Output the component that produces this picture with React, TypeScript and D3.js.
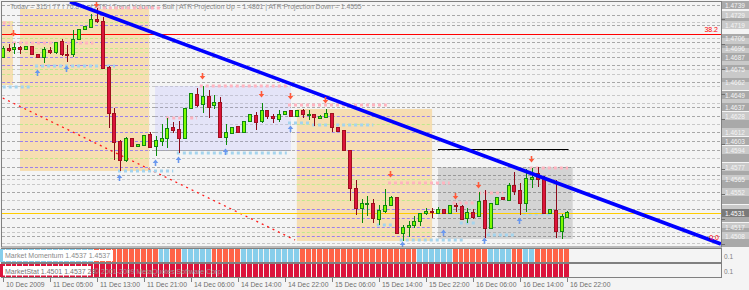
import React from "react";
import * as d3 from "d3";

// ---------- data ----------
const opens = [1.4687,1.4696,1.4695,1.4697,1.4695,1.4698,1.4690,1.4687,1.4694,1.4692,
1.4703,1.4690,1.4690,1.4705,1.4715,1.4717,1.4725,1.4723,1.4677,1.4631,
1.4603,1.4584,1.4606,1.4598,1.4599,1.4610,1.4598,1.4603,1.4606,1.4617,
1.4615,1.4606,1.4636,1.4650,1.4640,1.4648,1.4639,1.4642,1.4607,1.4611,
1.4618,1.4612,1.4623,1.4629,1.4623,1.4634,1.4628,1.4625,1.4630,1.4634,
1.4628,1.4634,1.4629,1.4630,1.4626,1.4627,1.4631,1.4617,1.4614,1.4594,
1.4556,1.4536,1.4540,1.4541,1.4525,1.4533,1.4539,1.4547,1.4511,1.4517,
1.4519,1.4523,1.4531,1.4533,1.4531,1.4535,1.4531,1.4539,1.4538,1.4526,
1.4532,1.4528,1.4544,1.4516,1.4540,1.4547,1.4544,1.4559,1.4554,1.4541,
1.4565,1.4571,1.4565,1.4531,1.4534,1.4513,1.4527];
const highs = [1.4698,1.4700,1.4701,1.4698,1.4698,1.4698,1.4690,1.4697,1.4697,1.4702,
1.4705,1.4699,1.4714,1.4715,1.4718,1.4730,1.4736,1.4727,1.4678,1.4636,
1.4604,1.4607,1.4606,1.4600,1.4609,1.4612,1.4608,1.4620,1.4626,1.4622,
1.4623,1.4636,1.4651,1.4656,1.4658,1.4654,1.4649,1.4647,1.4620,1.4617,
1.4618,1.4623,1.4630,1.4632,1.4641,1.4634,1.4630,1.4634,1.4633,1.4634,
1.4634,1.4635,1.4634,1.4630,1.4629,1.4635,1.4631,1.4617,1.4614,1.4594,
1.4564,1.4545,1.4548,1.4545,1.4539,1.4555,1.4548,1.4547,1.4519,1.4523,
1.4528,1.4531,1.4536,1.4536,1.4537,1.4535,1.4539,1.4541,1.4539,1.4536,
1.4535,1.4552,1.4554,1.4541,1.4547,1.4547,1.4561,1.4572,1.4561,1.4575,
1.4576,1.4577,1.4568,1.4535,1.4564,1.4530,1.4533];
const lows = [1.4686,1.4692,1.4690,1.4690,1.4695,1.4690,1.4687,1.4681,1.4690,1.4690,
1.4688,1.4682,1.4687,1.4704,1.4715,1.4717,1.4721,1.4676,1.4616,1.4584,
1.4573,1.4582,1.4598,1.4598,1.4598,1.4596,1.4588,1.4598,1.4596,1.4611,
1.4591,1.4606,1.4635,1.4637,1.4631,1.4626,1.4635,1.4606,1.4599,1.4611,
1.4612,1.4612,1.4623,1.4614,1.4621,1.4625,1.4621,1.4622,1.4629,1.4628,
1.4628,1.4626,1.4624,1.4618,1.4626,1.4626,1.4612,1.4613,1.4594,1.4543,
1.4529,1.4521,1.4528,1.4521,1.4519,1.4531,1.4539,1.4511,1.4503,1.4507,
1.4516,1.4518,1.4529,1.4526,1.4531,1.4531,1.4531,1.4532,1.4524,1.4521,
1.4525,1.4527,1.4506,1.4516,1.4539,1.4544,1.4544,1.4549,1.4529,1.4532,
1.4556,1.4557,1.4531,1.4531,1.4506,1.4505,1.4527];
const closes = [1.4696,1.4694,1.4697,1.4695,1.4698,1.4690,1.4687,1.4695,1.4692,1.4702,
1.4690,1.4689,1.4705,1.4715,1.4718,1.4725,1.4723,1.4676,1.4631,1.4602,
1.4584,1.4606,1.4598,1.4600,1.4609,1.4597,1.4604,1.4606,1.4616,1.4614,
1.4606,1.4636,1.4651,1.4639,1.4648,1.4637,1.4642,1.4607,1.4612,1.4617,
1.4612,1.4623,1.4630,1.4622,1.4634,1.4628,1.4626,1.4630,1.4633,1.4628,
1.4634,1.4630,1.4630,1.4627,1.4628,1.4631,1.4617,1.4613,1.4594,1.4556,
1.4536,1.4541,1.4541,1.4526,1.4534,1.4539,1.4547,1.4511,1.4517,1.4519,
1.4523,1.4531,1.4533,1.4532,1.4535,1.4531,1.4539,1.4538,1.4525,1.4532,
1.4527,1.4543,1.4516,1.4541,1.4547,1.4545,1.4559,1.4553,1.4541,1.4566,
1.4567,1.4565,1.4531,1.4535,1.4513,1.4528,1.4532];

const tickIndex = [0, 8, 16, 24, 32, 40, 48, 56, 64, 72, 80, 88, 96];
const tickLabels = ["10 Dec 2009", "11 Dec 05:00", "11 Dec 13:00", "11 Dec 21:00", "14 Dec 06:00",
  "14 Dec 14:00", "14 Dec 22:00", "15 Dec 06:00", "15 Dec 14:00", "15 Dec 22:00",
  "16 Dec 06:00", "16 Dec 14:00", "16 Dec 22:00"];

const axisTicks = [1.4725, 1.4700, 1.4675, 1.4650, 1.4625, 1.4600, 1.4575, 1.4550, 1.4525, 1.4500];

const gridLevels = [1.4739,1.4729,1.4722,1.4719,1.4706,1.4702,1.4696,1.4692,1.4687,1.4679,
1.4675,1.4670,1.4662,1.4658,1.4649,1.4641,1.4637,1.4628,1.4620,1.4612,
1.4603,1.4594,1.4586,1.4577,1.4569,1.4565,1.4560,1.4552,1.4544,1.4535,
1.4526,1.4517,1.4512,1.4508,1.4501];
const gridShade = ["d","d","l","d","l","d","l","l","d","d",
"l","l","d","l","l","l","d","d","l","d",
"d","d","l","d","d","l","l","d","l","d",
"d","d","l","d","l"];

const boxStart = [-0.1, 2.94, 25.9, 50.0, 74.0];
const boxEnd = [1.75, 24.9, 49.0, 73.0, 96.9];
const boxTop = [1.4723, 1.4735, 1.4658, 1.4635, 1.4577];
const boxBottom = [1.4659, 1.4573, 1.4594, 1.4503, 1.4505];
const boxKind = ["wheat", "wheat", "lavender", "wheat", "gray"];

const pinkFrom = [16, 0, 1.75, 33.5, 27.8, 48.5, 65.5, 76.5, 80.8, 89.6];
const pinkTo = [27.3, 1.2, 15.4, 48.3, 33, 65.3, 76, 80.3, 85.1, 96.1];
const pinkPrice = [1.4736, 1.4721, 1.4701, 1.4658, 1.4626, 1.4639, 1.4561, 1.4541, 1.4551, 1.4576];

const skyFrom = [0, 5.5, 19.6, 29.6, 48.5, 52.6, 63.6, 67.5, 77.7, 82.3, 88.4];
const skyTo = [4.6, 19.1, 29, 48.3, 52.3, 63, 66.4, 78.2, 80.6, 87.4, 93];
const skyPrice = [1.4657, 1.4678, 1.4573, 1.4591, 1.4621, 1.4619, 1.4519, 1.4504, 1.4521, 1.4509, 1.4530];

const sellIdx = [16, 2, 34, 44, 49, 55, 66, 77, 81, 90];
const sellPrice = [1.4739, 1.4710, 1.4667, 1.4649, 1.4647, 1.4643, 1.4569, 1.4547, 1.4558, 1.4584];
const buyIdx = [6, 11, 20, 26, 30, 38, 49, 68, 75, 82, 88];
const buyPrice = [1.4672, 1.4676, 1.4567, 1.4582, 1.4585, 1.4593, 1.4616, 1.4500, 1.4512, 1.4504, 1.4524];

const blueTrend = [[11.44, 1.47423], [122.1, 1.4500]];
const redTrend = [[0, 1.4646], [49.7, 1.4504]];
const blackLine = [74, 96.2, 1.4595];
const fibPrice = 1.4710;
const currentPrice = 1.4531;

const momentum = [1,1,1,1,1,1,1,1,1,1,1,1,1,1,1,1,
0,0,0,0,0,0,0,0,0,0,0,
1,1,
0,0,
1,1,1,1,1,
0,0,0,0,0,
1,1,1,1,1,1,1,1,1,1,
0,0,0,0,0,0,0,0,0,0,0,0,0,0,0,0,0,0,0,0,
1,1,1,1,1,1,
0,0,0,0,0,0,
1,1,1,1,
0,0,
1,1,
0,0,0,0,0,0];
const marketStat = [0,0,0,0,0,0,0,0,0,0,0,0,0,0,0,0,0,0,0,0,
0,0,0,0,0,0,0,0,0,0,0,0,0,0,0,0,0,0,0,0,
0,0,0,0,0,0,0,0,0,0,0,0,0,0,0,0,0,0,0,0,
0,0,0,0,0,0,0,0,0,0,0,0,0,0,0,0,0,0,0,0,
0,0,0,0,0,0,0,0,0,0,0,0,0,0,0,0,0];

const headerText = "Today = 315 | 77 | 76.8% of ATR | Trend Volume = Bull | ATR Projection Up = 1.4861 | ATR Projection Down = 1.4555";

// ---------- component ----------
export default function App() {
  const W = 749, H = 290;
  const L = 2, R = 721, T = 2, B = 246;
  const x = d3.scaleLinear().domain([0, 96]).range([2.7, 567.4]);
  const y = d3.scaleLinear().domain([1.4498, 1.4744]).range([246, 0]);
  const font = "'Liberation Sans', Arial, sans-serif";
  const fmt = d3.format(".4f");

  const boxFill: Record<string, string> = { wheat: "#f6deb2", lavender: "#e4e4f8", gray: "#d4d4d4" };
  const line = d3.line<number[]>().x(d => x(d[0])).y(d => y(d[1]));

  const arrowDown = (cx: number, cy: number) =>
    `M${cx - 0.8},${cy - 4} h1.6 v3 h2 l-2.8,3.6 l-2.8,-3.6 h2 z`;
  const arrowUp = (cx: number, cy: number) =>
    `M${cx - 0.8},${cy + 4} h1.6 v-3 h2 l-2.8,-3.6 l-2.8,3.6 h2 z`;

  const barRect = (i: number) => {
    const a = Math.round(x(i) - 2.94);
    const b = Math.round(x(i + 1) - 2.94);
    return { x0: a, w: b - a - 1 };
  };

  // which price-column boxes get a readable label (no overlaps)
  const curY = Math.round(y(currentPrice));
  const labelled: boolean[] = [];
  let lastY = -100;
  gridLevels.forEach((p) => {
    const yy = Math.round(y(p));
    const ok = yy - lastY >= 9 && Math.abs(yy - curY) >= 9;
    labelled.push(ok);
    if (ok) lastY = yy;
  });

  return (
    <div style={{ position: "absolute", left: 0, top: 0 }}>
      <svg width={W} height={H} style={{ display: "block", fontFamily: font }}>
        <defs>
          <clipPath id="mainClip">
            <rect x={L} y={T} width={R - L} height={B - T + 1} />
          </clipPath>
        </defs>
        <rect x={0} y={0} width={W} height={H} fill="#f4f4f4" />

        <g clipPath="url(#mainClip)">
          {gridLevels.map((p, k) => (
            <line key={"g" + k} x1={L} x2={R} y1={Math.round(y(p)) + 0.5} y2={Math.round(y(p)) + 0.5}
              stroke={gridShade[k] === "d" ? "#a8a8a8" : "#c8c8c8"} strokeDasharray="3,2" />
          ))}
          <text x={10} y={8.5} fontSize={6.8} fill="#8a8a8a">{headerText}</text>
          {boxStart.map((s, k) => (
            <rect key={"b" + k} x={x(s)} y={y(boxTop[k])} width={x(boxEnd[k]) - x(s)}
              height={y(boxBottom[k]) - y(boxTop[k])} fill={boxFill[boxKind[k]]} />
          ))}
          {boxStart.map((s, k) =>
            gridLevels.filter(p => p <= boxTop[k] && p >= boxBottom[k]).map((p, j) => {
              const shade = gridShade[gridLevels.indexOf(p)];
              let c = shade === "d" ? "#a8a8a8" : "#c8c8c8";
              if (boxKind[k] === "wheat") c = shade === "d" ? "#9c80ea" : "#bfe98c";
              if (boxKind[k] === "lavender") c = shade === "d" ? "#a4a4b4" : "#c4c4d4";
              if (boxKind[k] === "gray") c = shade === "d" ? "#989898" : "#b4b4b4";
              const yy = Math.round(y(p)) + 0.5;
              return <line key={"r" + k + "_" + j} x1={x(s)} x2={x(boxEnd[k])} y1={yy} y2={yy}
                stroke={c} strokeDasharray="3,2" />;
            })
          )}
          <path d={line(redTrend) || ""} stroke="#ff1a1a" strokeWidth={1.3} strokeDasharray="2,4" fill="none" />
          {pinkFrom.map((f, k) => (
            <line key={"p" + k} x1={x(f)} x2={x(pinkTo[k])} y1={y(pinkPrice[k])} y2={y(pinkPrice[k])}
              stroke="#ffb4c0" strokeWidth={3} strokeDasharray="3,3" />
          ))}
          {skyFrom.map((f, k) => (
            <line key={"s" + k} x1={x(f)} x2={x(skyTo[k])} y1={y(skyPrice[k])} y2={y(skyPrice[k])}
              stroke="#a4d4ee" strokeWidth={3} strokeDasharray="3,3" />
          ))}
          <line x1={L} x2={R} y1={Math.round(y(fibPrice)) + 0.5} y2={Math.round(y(fibPrice)) + 0.5} stroke="#ff0000" strokeWidth={1} />
          <line x1={L} x2={R} y1={curY + 0.5} y2={curY + 0.5} stroke="#ffcc00" strokeWidth={1.2} />
          <line x1={x(blackLine[0])} x2={x(blackLine[1])} y1={Math.round(y(blackLine[2])) + 0.5}
            y2={Math.round(y(blackLine[2])) + 0.5} stroke="#000" strokeWidth={1} />
          {opens.map((o, i) => {
            const c = closes[i];
            const up = c >= o;
            const r = Math.round(x(i));
            const top = Math.round(y(Math.max(o, c)));
            const bot = Math.round(y(Math.min(o, c)));
            const wick = up ? "#0a8a0a" : "#8b0a1a";
            return (
              <g key={"c" + i}>
                <line x1={r + 0.5} x2={r + 0.5} y1={Math.round(y(highs[i]))} y2={Math.round(y(lows[i]))} stroke={wick} />
                <rect x={r - 1.5} y={top + 0.5} width={3} height={Math.max(bot - top, 1)}
                  fill={up ? "#7cfc00" : "#dc143c"} stroke={up ? "#118811" : "#a0101e"} />
              </g>
            );
          })}
          <path d={line(blueTrend) || ""} stroke="#0000ff" strokeWidth={3.6} fill="none" />
          {sellIdx.map((ix, k) => (
            <path key={"sa" + k} d={arrowDown(Math.round(x(ix)) - 0.5, y(sellPrice[k]))} fill="#ff5a3a" />
          ))}
          {buyIdx.map((ix, k) => (
            <path key={"ba" + k} d={arrowUp(Math.round(x(ix)) - 0.5, y(buyPrice[k]))} fill="#6a98ee" />
          ))}
          <text x={718} y={31.5} fontSize={7} fill="#ff0000" textAnchor="end">38.2</text>
          <text x={719} y={240} fontSize={7} fill="#ff0000" textAnchor="end">0.0</text>
        </g>
        <rect x={1.5} y={1.5} width={720} height={245.5} fill="none" stroke="#808080" />

        {/* right price column */}
        {gridLevels.map((p, k) => {
          const yy = Math.round(y(p));
          return (
            <rect key={"lb" + k} x={722} y={yy - 4} width={27} height={8}
              fill={k % 2 === 0 ? "#a9a9a9" : "#c9c9c9"} />
          );
        })}
        {gridLevels.map((p, k) => labelled[k] ? (
          <text key={"lt" + k} x={725} y={Math.round(y(p)) + 2.5} fontSize={6.5} fill="#f4f4f4">{fmt(p)}</text>
        ) : null)}
        {axisTicks.map((p, k) => {
          const yy = Math.round(y(p)) + 0.5;
          return <line key={"at" + k} x1={721} x2={725} y1={yy} y2={yy} stroke="#707070" />;
        })}
        <rect x={722} y={curY - 4} width={27} height={8} fill="#7a7a7a" />
        <text x={725} y={curY + 2.5} fontSize={6.5} fill="#ffffff">{fmt(currentPrice)}</text>

        {/* indicator panel 1 */}
        <rect x={1.5} y={248.5} width={720} height={14} fill="#f4f4f4" stroke="#808080" />
        {momentum.map((v, i) => {
          const b = barRect(i);
          return <rect key={"m" + i} x={b.x0} y={249} width={b.w} height={13} fill={v ? "#87ceeb" : "#ff6347"} />;
        })}
        <rect x={3} y={250} width={110} height={11} fill="#ffffff" />
        <text x={5} y={258.3} fontSize={7} fill="#8a8a8a">Market Momentum 1.4537 1.4537</text>
        <text x={724} y={259} fontSize={6.5} fill="#808080">0.1</text>

        {/* indicator panel 2 */}
        <rect x={1.5} y={263.5} width={720} height={14} fill="#f4f4f4" stroke="#808080" />
        {marketStat.map((v, i) => {
          const b = barRect(i);
          return <rect key={"st" + i} x={b.x0} y={264} width={b.w} height={13} fill={v ? "#87ceeb" : "#dc143c"} />;
        })}
        <rect x={3} y={266} width={88} height={9.5} fill="#ffffff" />
        <text x={5} y={273.5} fontSize={7} fill="#777777">MarketStat 1.4501 1.4537 28</text>
        <text x={94} y={273.5} fontSize={7} fill="#9a9a9a">© 2001-2009 MetaQuotes Software Corp.</text>
        <text x={724} y={274} fontSize={6.5} fill="#808080">0.1</text>

        {/* time axis */}
        {tickIndex.map((ix, k) => {
          const xx = Math.round(x(ix)) + 0.5;
          return (
            <g key={"t" + k}>
              <line x1={xx} x2={xx} y1={278} y2={282} stroke="#808080" />
              <text x={xx + 2.5} y={287} fontSize={6.8} fill="#6e6e6e">{tickLabels[k]}</text>
            </g>
          );
        })}
      </svg>
    </div>
  );
}
